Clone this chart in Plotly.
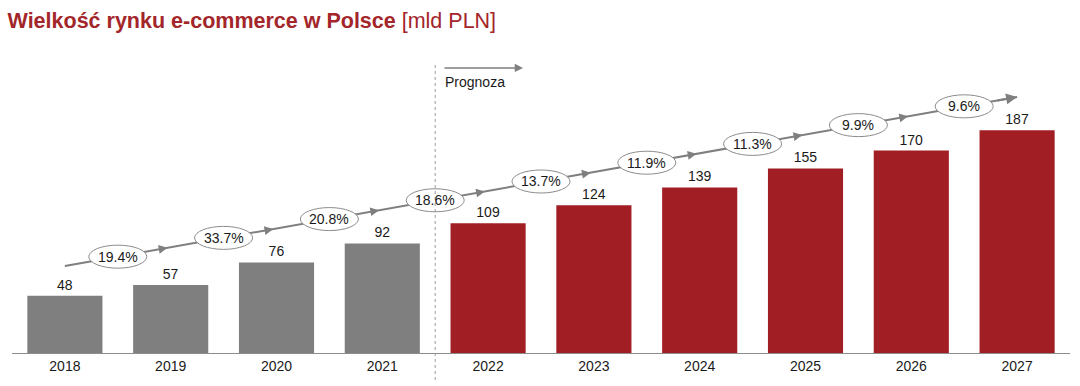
import plotly.graph_objects as go

years = ["2018", "2019", "2020", "2021", "2022", "2023", "2024", "2025", "2026", "2027"]
values = [48, 57, 76, 92, 109, 124, 139, 155, 170, 187]
is_forecast = [False, False, False, False, True, True, True, True, True, True]
growth = ["19.4%", "33.7%", "20.8%", "18.6%", "13.7%", "11.9%", "11.3%", "9.9%", "9.6%"]

GRAY = "#7f7f7f"
RED = "#a11f24"
LINE = "#7f7f7f"
LINE_Y0, LINE_Y1 = 73, 215
FONT = "Liberation Sans, Arial"

xs = list(range(len(years)))
colors = [RED if f else GRAY for f in is_forecast]

def line_y(x):
    return LINE_Y0 + (LINE_Y1 - LINE_Y0) * x / (len(years) - 1)

fig = go.Figure()
fig.add_trace(go.Bar(
    x=xs, y=values, marker=dict(color=colors, line=dict(width=0)), width=0.71,
    text=[str(v) for v in values], textposition="outside",
    textfont=dict(size=14, color="#1a1a1a", family=FONT),
    cliponaxis=False, hoverinfo="skip"))

fig.add_trace(go.Scatter(
    x=[0, len(years) - 1], y=[line_y(0), line_y(len(years) - 1)], mode="lines",
    line=dict(color=LINE, width=2), hoverinfo="skip"))

shapes = []
annotations = []
for i, g in enumerate(growth):
    xm = i + 0.5
    ym = line_y(xm)
    shapes.append(dict(type="circle", xref="x", yref="y", xsizemode="pixel", ysizemode="pixel",
                       xanchor=xm, yanchor=ym, x0=-29, x1=29, y0=-11.5, y1=11.5,
                       fillcolor="white", line=dict(color="#8c8c8c", width=1), layer="above"))
    annotations.append(dict(x=xm, y=ym, xref="x", yref="y", text=g, showarrow=False,
                            font=dict(size=14, color="#1a1a1a", family=FONT)))

for i in range(1, len(years) - 1):
    xt = i - 0.03
    annotations.append(dict(x=xt, y=line_y(xt), xref="x", yref="y", axref="x", ayref="y",
                            ax=xt - 0.08, ay=line_y(xt - 0.08), text="", showarrow=True,
                            arrowhead=2, arrowsize=1.1, arrowwidth=1.6, arrowcolor=LINE))
annotations.append(dict(x=len(years) - 1, y=line_y(len(years) - 1), xref="x", yref="y",
                        axref="x", ayref="y", ax=len(years) - 1.2, ay=line_y(len(years) - 1.2),
                        text="", showarrow=True, arrowhead=2, arrowsize=1.1, arrowwidth=2,
                        arrowcolor=LINE))

# forecast divider
shapes.append(dict(type="line", xref="x", yref="paper", x0=3.5, x1=3.5, y0=-0.092, y1=0.983,
                   line=dict(color="#9a9a9a", width=1, dash="dot")))
annotations.append(dict(x=4.33, y=0.973, xref="x", yref="paper", ax=-80, ay=0, text="",
                        showarrow=True, arrowhead=2, arrowsize=1.1, arrowwidth=1.5, arrowcolor=LINE))
annotations.append(dict(x=3.57, y=0.925, xref="x", yref="paper", text="Prognoza", showarrow=False,
                        xanchor="left", yanchor="middle",
                        font=dict(size=14, color="#1a1a1a", family=FONT)))

fig.update_layout(
    width=1080, height=386,
    margin=dict(l=12, r=10, t=60, b=33),
    paper_bgcolor="white", plot_bgcolor="white",
    showlegend=False,
    title=dict(text="<b>Wielkość rynku e-commerce w Polsce</b> [mld PLN]",
               x=0.007, xanchor="left", y=0.948, yanchor="middle",
               font=dict(size=21.5, color="#a3262a", family=FONT)),
    xaxis=dict(range=[-0.5, 9.5], tickvals=xs, ticktext=years, showgrid=False, zeroline=False,
               showline=True, linecolor="#8c8c8c", linewidth=1, ticks="",
               tickfont=dict(size=14, color="#1a1a1a", family=FONT)),
    yaxis=dict(range=[0, 246], visible=False),
    shapes=shapes, annotations=annotations,
)

fig.write_html("out.html", config={"displayModeBar": False},
               post_script="document.body.style.margin='0';document.body.style.overflow='hidden';")
